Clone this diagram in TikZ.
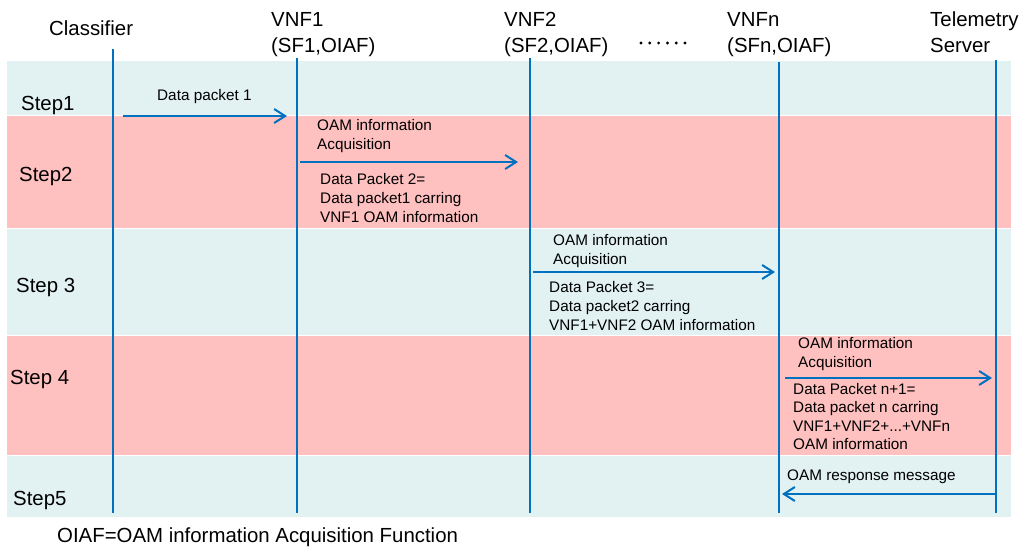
\documentclass[tikz,border=0pt]{standalone}
\usepackage{fontspec}
\setmainfont{Liberation Sans}
\usetikzlibrary{arrows.meta}

\definecolor{lifeblue}{RGB}{0,112,192}
\definecolor{bandcyan}{RGB}{226,241,242}
\definecolor{bandpink}{RGB}{255,192,192}

% stack of lines whose baseline is the first line's baseline
\newcommand{\rows}[1]{\vtop{\halign{##\hfil\cr#1\crcr}}}

\begin{document}
\begin{tikzpicture}[x=1pt,y=-1pt,
  big/.style={font=\fontsize{20.4}{26}\selectfont, inner sep=0pt, anchor=base west},
  small/.style={font=\fontsize{15.3}{19}\selectfont, inner sep=0pt, anchor=base west},
  lifeline/.style={draw=lifeblue, line width=2pt},
  msg/.style={draw=lifeblue, line width=2pt,
    -{Straight Barb[length=11pt,width=14pt]}},
  cyanband/.style={fill=bandcyan},
  pinkband/.style={fill=bandpink}]

\useasboundingbox (0,0) rectangle (1022,550);

% step bands
\path[cyanband] (7,61)    rectangle (1011,114.5);
\path[pinkband] (7,115.5) rectangle (1011,227.5);
\path[cyanband] (7,228.5) rectangle (1011,334.5);
\path[pinkband] (7,335.5) rectangle (1011,454.5);
\path[cyanband] (7,455.5) rectangle (1011,517);

% participants
\node[big] (cls) at (49,35) {Classifier};
\node[big] (vnf1) at (271,26) {\rows{VNF1\cr(SF1,OIAF)}};
\node[big] (vnf2) at (504,26) {\rows{VNF2\cr(SF2,OIAF)}};
\node[big] (vnfn) at (727,26) {\rows{VNFn\cr(SFn,OIAF)}};
\node[big] (tel) at (930,26) {\rows{Telemetry\cr Server}};
\foreach \i in {0,...,5}
  \fill (641+\i*8.8,43) circle (1.6pt);

% lifelines
\coordinate (cls-t) at (113,49);  \coordinate (cls-b) at (113,513);
\coordinate (v1-t)  at (297,58);  \coordinate (v1-b)  at (297,513);
\coordinate (v2-t)  at (530,58);  \coordinate (v2-b)  at (530,513);
\coordinate (vn-t)  at (779,62);  \coordinate (vn-b)  at (779,513);
\coordinate (tel-t) at (996,60);  \coordinate (tel-b) at (996,513);
\draw[lifeline] (cls-t) -- (cls-b);
\draw[lifeline] (v1-t) -- (v1-b);
\draw[lifeline] (v2-t) -- (v2-b);
\draw[lifeline] (vn-t) -- (vn-b);
\draw[lifeline] (tel-t) -- (tel-b);

% step labels
\node[big] (s1) at (21,110) {Step1};
\node[big] (s2) at (19,181) {Step2};
\node[big] (s3) at (16,292) {Step 3};
\node[big] (s4) at (10,384) {Step 4};
\node[big] (s5) at (13,505) {Step5};

% messages
\coordinate (m1a) at (123,116);  \coordinate (m1b) at (287,116);
\draw[msg] (m1a) -- (m1b);
\node[small] (l1) at (157,100) {Data packet 1};

\coordinate (m2a) at (300,162);  \coordinate (m2b) at (518,162);
\draw[msg] (m2a) -- (m2b);
\node[small] (l2a) at (317,130) {\rows{OAM information\cr Acquisition}};
\node[small] (l2b) at (320,184) {\rows{Data Packet 2=\cr Data packet1 carring\cr VNF1 OAM information}};

\coordinate (m3a) at (533,272);  \coordinate (m3b) at (775,272);
\draw[msg] (m3a) -- (m3b);
\node[small] (l3a) at (553,245) {\rows{OAM information\cr Acquisition}};
\node[small] (l3b) at (549,292) {\rows{Data Packet 3=\cr Data packet2 carring\cr VNF1+VNF2 OAM information}};

\coordinate (m4a) at (785,378);  \coordinate (m4b) at (992,378);
\draw[msg] (m4a) -- (m4b);
\node[small] (l4a) at (798,348) {\rows{OAM information\cr Acquisition}};
\node[small, font=\fontsize{15.3}{18.5}\selectfont] (l4b) at (793,394)
  {\rows{Data Packet n+1=\cr Data packet n carring\cr VNF1+VNF2+...+VNFn\cr OAM information}};

\coordinate (m5a) at (996,494);  \coordinate (m5b) at (782,494);
\draw[msg] (m5a) -- (m5b);
\node[small] (l5) at (787,480) {OAM response message};

% footnote
\node[big] (note) at (57,542) {OIAF=OAM information Acquisition Function};

\end{tikzpicture}
\end{document}
